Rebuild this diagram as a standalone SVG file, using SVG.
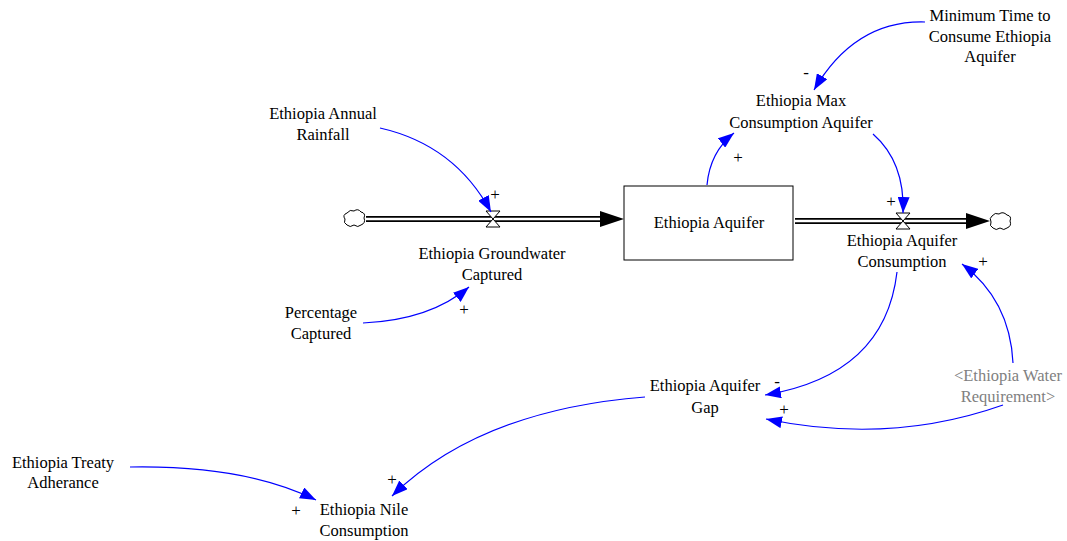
<svg xmlns="http://www.w3.org/2000/svg" width="1067" height="541" viewBox="0 0 1067 541" font-family="'Liberation Serif', 'Times New Roman', serif">
<style>
text{font-family:'Liberation Serif','Times New Roman',serif;font-size:16.5px;fill:#000;text-anchor:middle}
.g{fill:#808080}
.sign{font-size:17px;fill:#000}
.link{fill:none;stroke:#0000ff;stroke-width:1.2}
.pipeo{fill:none;stroke:#000;stroke-width:6}
.pipei{fill:none;stroke:#fff;stroke-width:2.6}
.cloud{fill:#fff;stroke:#000;stroke-width:1}
.valve{fill:#fff;stroke:#000;stroke-width:1}
</style>
<defs>
<marker id="ah" markerUnits="userSpaceOnUse" markerWidth="18" markerHeight="12" refX="16" refY="6" orient="auto">
<path d="M0,0 L16,6 L0,12 Z" fill="#0000ff"/>
</marker>
</defs>
<rect width="1067" height="541" fill="#fff"/>

<g id="flows">
<line class="pipeo" x1="366" y1="219" x2="602" y2="219"/>
<line class="pipei" x1="366" y1="219" x2="604" y2="219"/>
<path d="M600,211 L624,219 L600,227 Z" fill="#000"/>
<line class="pipeo" x1="795" y1="221" x2="968" y2="221"/>
<line class="pipei" x1="795" y1="221" x2="970" y2="221"/>
<path d="M966,213 L990,221 L966,229 Z" fill="#000"/>
</g>

<g id="cloud-source">
<path class="cloud" d="M347,213 q3,-4 7,-2 q4,-3 7,1 q5,1 3,6 q2,5 -3,7 q-3,3 -7,0 q-4,3 -7,0 q-4,-2 -2,-6 q-3,-4 2,-6 Z"/>
</g>
<g id="cloud-sink">
<path class="cloud" d="M992,216 q3,-4 7,-2 q4,-3 8,1 q5,1 3,6 q2,5 -3,7 q-3,3 -7,0 q-4,3 -7,0 q-4,-2 -2,-6 q-2,-4 1,-6 Z"/>
</g>

<g id="stock-ethiopia-aquifer">
<rect x="624" y="186" width="169" height="74" fill="#fff" stroke="#000" stroke-width="1"/>
<text x="709" y="228">Ethiopia Aquifer</text>
</g>

<g id="flow-groundwater-captured">
<path class="valve" d="M486,211 L500,211 L486,227 L500,227 Z"/>
<text x="492" y="259">Ethiopia Groundwater</text>
<text x="492" y="280">Captured</text>
</g>

<g id="flow-aquifer-consumption">
<path class="valve" d="M896,213 L910,213 L896,229 L910,229 Z"/>
<text x="902" y="246">Ethiopia Aquifer</text>
<text x="902" y="267">Consumption</text>
</g>

<g id="var-annual-rainfall">
<text x="323" y="119">Ethiopia Annual</text>
<text x="323" y="140">Rainfall</text>
</g>
<g id="var-percentage-captured">
<text x="321" y="318">Percentage</text>
<text x="321" y="339">Captured</text>
</g>
<g id="var-max-consumption">
<text x="801" y="106">Ethiopia Max</text>
<text x="801" y="128">Consumption Aquifer</text>
</g>
<g id="var-minimum-time">
<text x="990" y="21">Minimum Time to</text>
<text x="990" y="42">Consume Ethiopia</text>
<text x="990" y="62">Aquifer</text>
</g>
<g id="var-aquifer-gap">
<text x="705" y="391">Ethiopia Aquifer</text>
<text x="705" y="413">Gap</text>
</g>
<g id="var-water-requirement">
<text class="g" x="1008" y="381">&lt;Ethiopia Water</text>
<text class="g" x="1008" y="402">Requirement&gt;</text>
</g>
<g id="var-treaty-adherance">
<text x="63" y="468">Ethiopia Treaty</text>
<text x="63" y="488">Adherance</text>
</g>
<g id="var-nile-consumption">
<text x="364" y="515">Ethiopia Nile</text>
<text x="364" y="536">Consumption</text>
</g>

<g id="connectors">
<path class="link" marker-end="url(#ah)" d="M380,128 Q455,145 491,212"/>
<path class="link" marker-end="url(#ah)" d="M363,323 Q430,320 469,287"/>
<path class="link" marker-end="url(#ah)" d="M707,185 Q710,152 734,133"/>
<path class="link" marker-end="url(#ah)" d="M925,22 Q855,20 814,90"/>
<path class="link" marker-end="url(#ah)" d="M873,134 Q905,162 903,213"/>
<path class="link" marker-end="url(#ah)" d="M897,272 Q885,375 765,395"/>
<path class="link" marker-end="url(#ah)" d="M1013,363 Q1010,300 962,264"/>
<path class="link" marker-end="url(#ah)" d="M1003,405 Q890,445 766,419"/>
<path class="link" marker-end="url(#ah)" d="M645,397 Q480,410 392,496"/>
<path class="link" marker-end="url(#ah)" d="M130,467 Q245,465 316,500"/>
<text class="sign" x="495" y="200">+</text>
<text class="sign" x="464" y="315">+</text>
<text class="sign" x="738" y="163">+</text>
<text class="sign" x="806" y="78">-</text>
<text class="sign" x="891" y="207">+</text>
<text class="sign" x="777" y="387">-</text>
<text class="sign" x="983" y="267">+</text>
<text class="sign" x="784" y="415">+</text>
<text class="sign" x="392" y="485">+</text>
<text class="sign" x="296" y="516">+</text>
</g>
</svg>
